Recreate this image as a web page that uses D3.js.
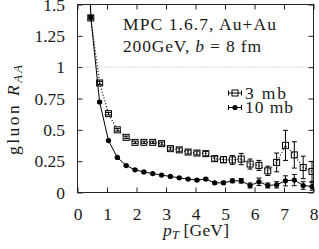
<!DOCTYPE html>
<html><head><meta charset="utf-8">
<script src="https://cdn.jsdelivr.net/npm/d3@7"></script>
<style>
html,body{margin:0;padding:0;background:#fff;}
</style></head>
<body><svg id="c" width="319" height="249"></svg>
<script>
// ---- data ----
const pt = [0.15,0.45,0.75,1.05,1.35,1.65,1.95,2.25,2.55,2.85,3.15,3.45,3.75,4.05,4.35,4.65,4.95,5.25,5.55,5.85,6.15,6.45,6.75,7.05,7.35,7.65,7.95];
const raa3mb = [3.5,1.393,0.874,0.629,0.50,0.44,0.40,0.40,0.40,0.39,0.35,0.34,0.323,0.315,0.31,0.27,0.262,0.26,0.267,0.227,0.216,0.173,0.24,0.376,0.30,0.20,0.168];
const err3mb = [0.1,0.015,0.012,0.01,0.01,0.01,0.01,0.01,0.01,0.012,0.012,0.015,0.015,0.015,0.018,0.02,0.025,0.035,0.045,0.04,0.04,0.037,0.075,0.12,0.105,0.09,0.08];
const raa10mb = [5.0,1.40,0.722,0.414,0.28,0.215,0.181,0.164,0.151,0.139,0.128,0.117,0.107,0.099,0.107,0.077,0.077,0.093,0.093,0.056,0.085,0.056,0.061,0.093,0.099,0.056,0.048];
const err10mb = [0.1,0.01,0.008,0.006,0.005,0.005,0.005,0.005,0.005,0.005,0.006,0.006,0.007,0.008,0.009,0.01,0.012,0.015,0.018,0.02,0.03,0.02,0.025,0.04,0.045,0.03,0.03];
const xTicks = [0,1,2,3,4,5,6,7,8];
const yTicks = [0,0.25,0.5,0.75,1,1.25,1.5];
const yTickLabels = ["0","0.25","0.5","0.75","1","1.25","1.5"];
const seriesNames = ["3 mb","10 mb"];

// ---- layout ----
const FONT = "'Liberation Serif','Times New Roman','DejaVu Serif',serif";
const svg = d3.select("#c").style("font-family",FONT);
const L = 77.5, R = 313.5, T = 4.5, B = 192.5;
const x = d3.scaleLinear().domain([0,8]).range([L,R]);
const y = d3.scaleLinear().domain([0,1.5]).range([B,T]);
const FS = 17.5;
const TXT = "#1a1a1a";

svg.append("defs").append("clipPath").attr("id","clip")
  .append("rect").attr("x",L).attr("y",T).attr("width",R-L).attr("height",B-T);

// reference line y=1
svg.append("line").attr("x1",L).attr("x2",R).attr("y1",y(1)).attr("y2",y(1))
  .attr("stroke","#999").attr("stroke-width",0.8).attr("stroke-dasharray","1,2");

// axes (ticks inward, mirrored)
const tl = 5;
const axB = d3.axisBottom(x).tickValues(xTicks).tickSize(-tl).tickPadding(15.5).tickFormat(d3.format("d"));
const axT = d3.axisTop(x).tickValues(xTicks).tickSize(-tl).tickFormat("");
const axL = d3.axisLeft(y).tickValues(yTicks).tickSize(-tl).tickPadding(12.5).tickFormat((d,i)=>yTickLabels[i]);
const axR = d3.axisRight(y).tickValues(yTicks).tickSize(-tl).tickFormat("");
function style(g){
  g.attr("font-family",null).attr("font-size",null);
  g.select(".domain").remove();
  g.selectAll(".tick line").attr("stroke","#222").attr("stroke-width",1);
  g.selectAll(".tick text").style("font-family",FONT).style("font-size",FS+"px").attr("fill",TXT);
}
svg.append("g").attr("transform",`translate(0,${B})`).call(axB).call(style);
svg.append("g").attr("transform",`translate(0,${T})`).call(axT).call(style);
svg.append("g").attr("transform",`translate(${L},0)`).call(axL).call(style);
svg.append("g").attr("transform",`translate(${R},0)`).call(axR).call(style);

// frame
svg.append("rect").attr("x",L).attr("y",T).attr("width",R-L).attr("height",B-T)
  .attr("fill","none").attr("stroke","#222").attr("stroke-width",1);

// data
const plot = svg.append("g").attr("clip-path","url(#clip)");
const d3mb = pt.map((p,i)=>({x:p,y:raa3mb[i],e:err3mb[i]}));
const d10mb = pt.map((p,i)=>({x:p,y:raa10mb[i],e:err10mb[i]}));
const line = d3.line().x(d=>x(d.x)).y(d=>y(d.y));

plot.append("path").datum(d10mb).attr("d",line).attr("fill","none")
  .attr("stroke","#000").attr("stroke-width",1);
plot.append("path").datum(d3mb).attr("d",line).attr("fill","none")
  .attr("stroke","#000").attr("stroke-width",1.2).attr("stroke-dasharray","1,2");

function errbars(data){
  const g = plot.append("g").attr("stroke","#000").attr("stroke-width",1);
  data.forEach(d=>{
    const cx = x(d.x), y1 = y(d.y-d.e), y2 = y(d.y+d.e);
    g.append("line").attr("x1",cx).attr("x2",cx).attr("y1",y1).attr("y2",y2);
    g.append("line").attr("x1",cx-2.5).attr("x2",cx+2.5).attr("y1",y1).attr("y2",y1);
    g.append("line").attr("x1",cx-2.5).attr("x2",cx+2.5).attr("y1",y2).attr("y2",y2);
  });
}
errbars(d10mb);
errbars(d3mb);
plot.selectAll("circle.p").data(d10mb).join("circle").attr("class","p")
  .attr("cx",d=>x(d.x)).attr("cy",d=>y(d.y)).attr("r",2.6).attr("fill","#000");
plot.selectAll("rect.p").data(d3mb).join("rect").attr("class","p")
  .attr("x",d=>x(d.x)-3).attr("y",d=>y(d.y)-3).attr("width",6).attr("height",6)
  .attr("fill","none").attr("stroke","#000").attr("stroke-width",1);

function txt(sel){ return sel.style("font-family",FONT).style("font-size",FS+"px").attr("fill",TXT); }
function fit(sel,w){ return sel.attr("textLength",w).attr("lengthAdjust","spacing"); }

// annotation
fit(txt(svg.append("text").attr("x",123).attr("y",30)),153).text("MPC 1.6.7, Au+Au");
const a2 = fit(txt(svg.append("text").attr("x",123).attr("y",52)),138);
a2.append("tspan").text("200GeV, ");
a2.append("tspan").attr("font-style","italic").text("b");
a2.append("tspan").text(" = 8 fm");

// legend
const lg = svg.append("g");
const legY = [93, 107.5];
const legW = [41, 48];
seriesNames.forEach((name,i)=>{
  const yy = legY[i];
  lg.append("line").attr("x1",228.5).attr("x2",241.5).attr("y1",yy).attr("y2",yy).attr("stroke","#000");
  lg.append("line").attr("x1",228.5).attr("x2",228.5).attr("y1",yy-2.5).attr("y2",yy+2.5).attr("stroke","#000");
  lg.append("line").attr("x1",241.5).attr("x2",241.5).attr("y1",yy-2.5).attr("y2",yy+2.5).attr("stroke","#000");
  if(i===0) lg.append("rect").attr("x",232).attr("y",yy-3).attr("width",6).attr("height",6).attr("fill","none").attr("stroke","#000");
  else lg.append("circle").attr("cx",235).attr("cy",yy).attr("r",2.6).attr("fill","#000");
  fit(txt(lg.append("text").attr("x",245).attr("y",yy+5.8)),legW[i]).text(name);
});

// axis titles
const xt = fit(txt(svg.append("text").attr("x",163).attr("y",236)),66);
xt.append("tspan").attr("font-style","italic").text("p");
xt.append("tspan").attr("font-style","italic").attr("dy",3).style("font-size","12.5px").text("T");
xt.append("tspan").attr("dy",-3).text(" [GeV]");

const yt = fit(txt(svg.append("text").attr("transform",`translate(19,155) rotate(-90)`)),90);
yt.append("tspan").text("gluon ");
yt.append("tspan").attr("font-style","italic").text("R");
yt.append("tspan").attr("font-style","italic").attr("dy",3).style("font-size","12.5px").text("AA");
</script></body></html>
